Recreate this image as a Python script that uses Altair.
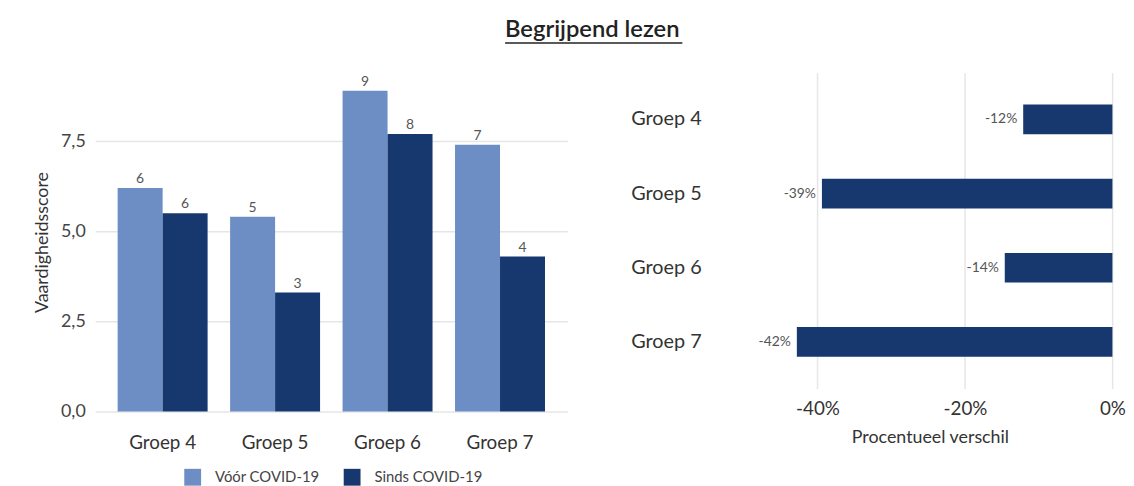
import altair as alt
import pandas as pd

# ---- data ----
titel = "Begrijpend lezen"
groepen = ["Groep 4", "Groep 5", "Groep 6", "Groep 7"]
perioden = ["Vóór COVID-19", "Sinds COVID-19"]
voor = [6.2, 5.4, 8.9, 7.4]
sinds = [5.5, 3.3, 7.7, 4.3]
verschil = [-0.121, -0.394, -0.146, -0.428]
verschil_labels = ["-12%", "-39%", "-14%", "-42%"]
y_ticks = [0, 2.5, 5, 7.5]
x_ticks = [-0.4, -0.2, 0]

FONT = "Lato"
LIGHT = "#6d8ec4"
DARK = "#17386f"
GRID = "#e6e6e6"

rows = []
for g, v, s in zip(groepen, voor, sinds):
    rows.append({"groep": g, "periode": perioden[0], "score": v})
    rows.append({"groep": g, "periode": perioden[1], "score": s})
scores = pd.DataFrame(rows)
diff = pd.DataFrame({"groep": groepen, "verschil": verschil, "label": verschil_labels})

# ---- left: grouped bars ----
x_enc = alt.X(
    "groep:N", sort=groepen,
    scale=alt.Scale(paddingInner=0.2, paddingOuter=0.2),
    axis=alt.Axis(title=None, labelFontSize=19, labelColor="#333", labelPadding=22,
                  ticks=False, domain=False, grid=False, labelAngle=0, labelFont=FONT),
)
xoff = alt.XOffset("periode:N", sort=perioden, scale=alt.Scale(paddingInner=0, paddingOuter=0))
y_enc = alt.Y(
    "score:Q",
    scale=alt.Scale(domain=[0, 9.4], nice=False),
    axis=alt.Axis(values=y_ticks, labelExpr="replace(format(datum.value, '.1f'), '.', ',')",
                  title="Vaardigheidsscore", titleFontSize=18, titleFontWeight="normal",
                  titleColor="#333", titleFont=FONT, titlePadding=9,
                  labelFontSize=18, labelColor="#444", labelFont=FONT, labelPadding=10,
                  ticks=False, domain=False, grid=True, gridColor=GRID, gridWidth=1.5),
)
color_enc = alt.Color(
    "periode:N", sort=perioden,
    scale=alt.Scale(domain=perioden, range=[LIGHT, DARK]),
    legend=alt.Legend(orient="none", legendX=90, legendY=463, direction="horizontal", title=None,
                      symbolType="square", symbolSize=289, symbolStrokeWidth=0, labelOffset=14,
                      labelFontSize=15, labelColor="#444", labelFont=FONT, columnPadding=24),
)

bars = alt.Chart(scores).mark_bar().encode(x=x_enc, xOffset=xoff, y=y_enc, color=color_enc)
bar_text = alt.Chart(scores).mark_text(dy=-9, fontSize=14, color="#555", font=FONT).encode(
    x=x_enc, xOffset=xoff, y=y_enc, text=alt.Text("score:Q", format=".0f")
)
left = alt.layer(bars, bar_text).properties(width=477, height=342)

# ---- right: percentage difference ----
y2_enc = alt.Y(
    "groep:N", sort=groepen,
    scale=alt.Scale(paddingInner=0.6, paddingOuter=0.43),
    axis=alt.Axis(title=None, labelFontSize=20, labelColor="#333", labelFont=FONT,
                  labelPadding=43, ticks=False, domain=False, grid=False),
)
x2_enc = alt.X(
    "verschil:Q",
    scale=alt.Scale(domain=[-0.5, 0.005], nice=False),
    axis=alt.Axis(values=x_ticks,
                  labelExpr="(datum.value < 0 ? '-' : '') + format(abs(datum.value) * 100, '.0f') + '%'",
                  title="Procentueel verschil", titleFontSize=18, titleFontWeight="normal",
                  titleColor="#333", titleFont=FONT, titlePadding=10,
                  labelFontSize=19, labelColor="#333", labelFont=FONT, labelPadding=11,
                  ticks=False, domain=False, grid=True, gridColor=GRID, gridWidth=1.5),
)
bars2 = alt.Chart(diff).mark_bar(color=DARK).encode(x=x2_enc, y=y2_enc)
text2 = alt.Chart(diff).mark_text(align="right", dx=-6, fontSize=14, color="#555", font=FONT).encode(
    x=x2_enc, y=y2_enc, text="label:N"
)
right = alt.layer(bars2, text2).properties(width=376, height=319)

# ---- title with underline ----
tdf = pd.DataFrame({"t": [titel]})
title_text = alt.Chart(tdf).mark_text(fontSize=24, fontWeight=600, font=FONT, color="#222",
                                      baseline="middle", align="center").encode(
    text="t:N", x=alt.value(502), y=alt.value(20))
underline = alt.Chart(tdf).mark_rule(color="#222", strokeWidth=1.5).encode(
    x=alt.value(414), x2=alt.value(593), y=alt.value(33))
title_chart = alt.layer(title_text, underline).properties(width=1000, height=55)

chart = alt.vconcat(
    title_chart,
    alt.hconcat(left, right, spacing=63),
    spacing=8,
).properties(
    padding={"left": 26, "top": 0, "right": 0, "bottom": 0}
).configure(
    background="white", view=alt.ViewConfig(stroke=None)
)

chart.save("out.html", embed_options={"renderer": "svg", "actions": False})
